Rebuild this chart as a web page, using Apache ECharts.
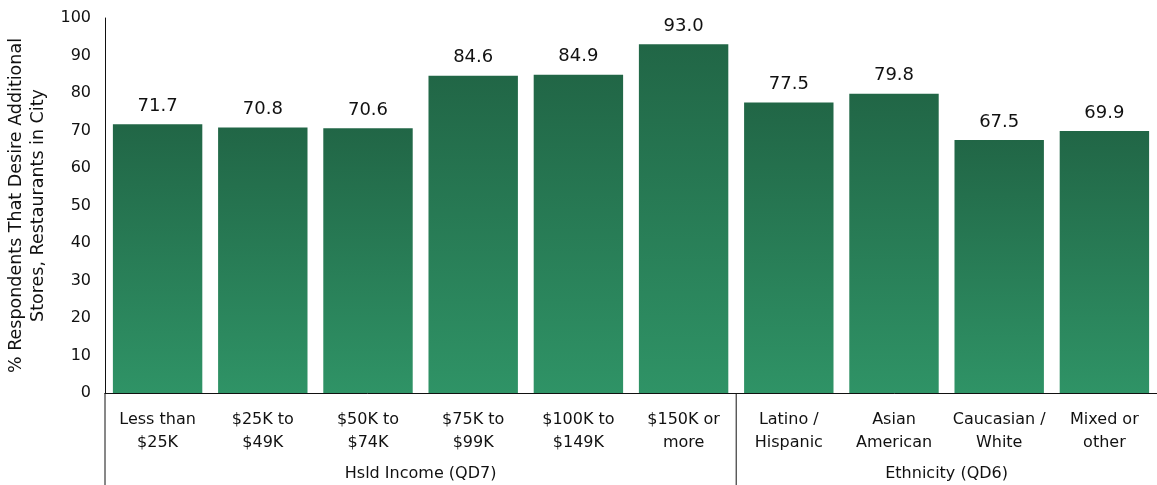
<!DOCTYPE html>
<html>
<head>
<meta charset="utf-8">
<script src="https://cdn.jsdelivr.net/npm/echarts@6/dist/echarts.min.js"></script>
<style>
  html, body { margin: 0; padding: 0; background: #fff; }
  #chart { width: 1157px; height: 485px; }
</style>
</head>
<body>
<div id="chart"></div>
<script>
// Survey results: share wanting more stores/restaurants, by household income and ethnicity
const categories = [
  'Less than\n$25K', '$25K to\n$49K', '$50K to\n$74K', '$75K to\n$99K', '$100K to\n$149K',
  '$150K or\nmore', 'Latino /\nHispanic', 'Asian\nAmerican', 'Caucasian /\nWhite', 'Mixed or\nother'
];
const values = [71.7, 70.8, 70.6, 84.6, 84.9, 93.0, 77.5, 79.8, 67.5, 69.9];
const groups = [
  { name: 'Hsld Income (QD7)', count: 6 },
  { name: 'Ethnicity (QD6)', count: 4 }
];
const yTicks = { min: 0, max: 100, interval: 10 };
const yTitle = '% Respondents That Desire Additional\nStores, Restaurants in City';

const FONT = 'DejaVu Sans';
const chart = echarts.init(document.getElementById('chart'), null, { renderer: 'canvas' });

const barColor = new echarts.graphic.LinearGradient(0, 0, 0, 1, [
  { offset: 0, color: '#216646' },
  { offset: 1, color: '#2f9366' }
]);

chart.setOption({
  animation: false,
  grid: { left: 105, right: 0, top: 18, bottom: 92, containLabel: false, outerBoundsMode: 'none' },
  xAxis: {
    type: 'category',
    data: categories,
    axisLine: { show: true, lineStyle: { color: '#111', width: 1 } },
    axisTick: { show: false },
    axisLabel: {
      interval: 0, margin: 15, color: '#111',
      fontFamily: FONT, fontSize: 16, lineHeight: 23
    }
  },
  yAxis: {
    type: 'value',
    min: yTicks.min, max: yTicks.max, interval: yTicks.interval,
    axisLine: { show: true, lineStyle: { color: '#111', width: 1 } },
    axisTick: { show: false },
    splitLine: { show: false },
    axisLabel: { color: '#111', fontFamily: FONT, fontSize: 16, margin: 14 },
    name: yTitle,
    nameLocation: 'middle',
    nameGap: 44,
    nameRotate: 90,
    nameTextStyle: { color: '#111', fontFamily: FONT, fontSize: 17.5, lineHeight: 22, align: 'center' }
  },
  series: [{
    type: 'bar',
    data: values,
    barCategoryGap: '15%',
    itemStyle: { color: barColor },
    label: {
      show: true, position: 'top', distance: 9,
      color: '#111', fontFamily: FONT, fontSize: 18,
      formatter: p => p.value.toFixed(1)
    }
  }]
});

// Group captions and dividers under the category labels
function drawGroups() {
  const bottom = 485;
  const y0 = chart.convertToPixel({ yAxisIndex: 0 }, 0);
  const c0 = chart.convertToPixel({ xAxisIndex: 0 }, categories[0]);
  const band = chart.convertToPixel({ xAxisIndex: 0 }, categories[1]) - c0;
  const edge = i => c0 + (i - 0.5) * band;
  const elements = [{
    type: 'line', shape: { x1: edge(0), y1: y0, x2: edge(0), y2: bottom },
    style: { stroke: '#111', lineWidth: 1 }
  }];
  let start = 0;
  groups.forEach((g, gi) => {
    const x1 = edge(start), x2 = edge(start + g.count);
    elements.push({
      type: 'text', x: (x1 + x2) / 2, y: y0 + 81,
      style: { text: g.name, fill: '#111', font: '16px "' + FONT + '"', align: 'center', verticalAlign: 'middle' }
    });
    if (gi < groups.length - 1) {
      elements.push({
        type: 'line', shape: { x1: x2, y1: y0, x2: x2, y2: bottom },
        style: { stroke: '#111', lineWidth: 1 }
      });
    }
    start += g.count;
  });
  chart.setOption({ graphic: elements });
}
drawGroups();
</script>
</body>
</html>
